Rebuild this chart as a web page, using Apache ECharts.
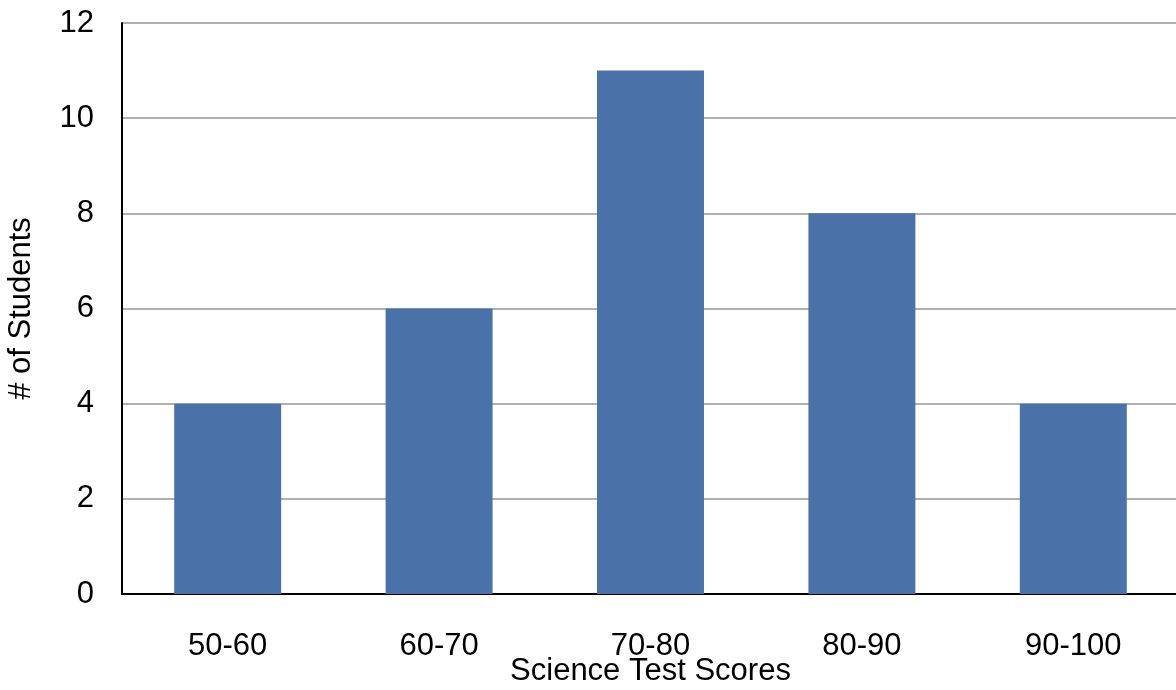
<!DOCTYPE html>
<html><head><meta charset="utf-8">
<script src="https://cdn.jsdelivr.net/npm/echarts@6/dist/echarts.min.js"></script>
<style>html,body{margin:0;padding:0;background:#fff}#c{width:1176px;height:690px}</style>
</head><body><div id="c"></div>
<script>
const categories = ["50-60","60-70","70-80","80-90","90-100"];
const students = [4, 6, 11, 8, 4];
const yTicks = [0, 2, 4, 6, 8, 10, 12];

const chart = echarts.init(document.getElementById('c'), null, {renderer:'canvas'});
const font = '"Liberation Sans", Arial, sans-serif';
chart.setOption({
  animation: false,
  grid: {left: 122, right: -3, top: 23, bottom: 96, containLabel: false, outerBoundsMode: 'none'},
  xAxis: {
    type: 'category', data: categories,
    name: 'Science Test Scores', nameLocation: 'middle', nameGap: 62, nameMoveOverlap: false,
    nameTextStyle: {fontFamily: font, fontSize: 31, color: '#000'},
    axisLine: {lineStyle: {color: '#000', width: 2}},
    axisTick: {show: false},
    axisLabel: {fontFamily: font, fontSize: 31, color: '#000', margin: 37}
  },
  yAxis: {
    type: 'value', min: yTicks[0], max: yTicks[yTicks.length-1], interval: 2,
    name: '# of Students', nameLocation: 'middle', nameGap: 85, nameRotate: 90, nameMoveOverlap: false,
    nameTextStyle: {fontFamily: font, fontSize: 31, color: '#000'},
    axisLine: {show: true, lineStyle: {color: '#000', width: 2}},
    axisTick: {show: false},
    axisLabel: {fontFamily: font, fontSize: 31, color: '#000', margin: 28},
    splitLine: {lineStyle: {color: '#b0b0b0', width: 2}}
  },
  series: [{
    type: 'bar', data: students, barWidth: '50.6%',
    itemStyle: {color: '#4a71a8'}
  }]
});
</script></body></html>
